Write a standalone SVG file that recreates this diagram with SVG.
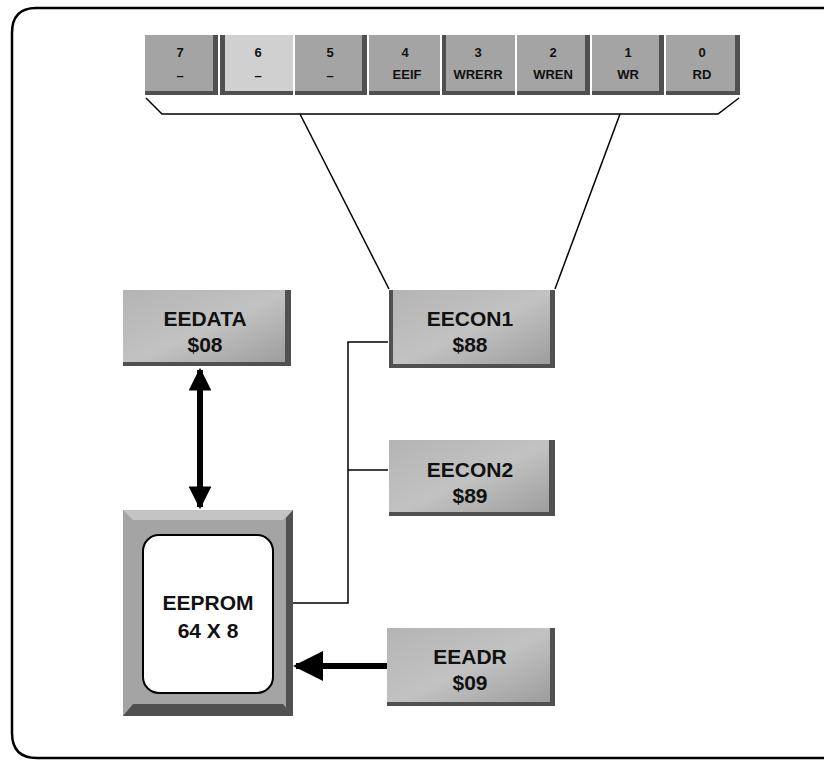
<svg xmlns="http://www.w3.org/2000/svg" width="824" height="762" viewBox="0 0 824 762">
<style>
.frame{fill:none;stroke:#000;stroke-width:2.5}
.box{fill:#a4a4a4}
.lite{fill:#d0d0d0}
.dark{fill:#505050}
.hl{fill:#c4c4c4}
.t{font-family:"Liberation Sans",Arial,sans-serif;font-weight:bold;fill:#111;text-anchor:middle}
.big{font-size:21px}
.small{font-size:13px}
.ln{fill:none;stroke:#000;stroke-width:1.5}
.thick{fill:none;stroke:#000;stroke-width:6}
</style>
<defs>
<marker id="ah" viewBox="0 0 10 10" refX="9" refY="5" markerWidth="3.8" markerHeight="3.8" orient="auto-start-reverse" markerUnits="strokeWidth">
<path d="M0,0 L10,5 L0,10 Z" fill="#000"/>
</marker>
<marker id="ah2" viewBox="0 0 10 10" refX="9" refY="5" markerWidth="5" markerHeight="5" orient="auto" markerUnits="strokeWidth">
<path d="M0,0 L10,5 L0,10 Z" fill="#000"/>
</marker>
<linearGradient id="g" x1="0" y1="0" x2="1" y2="1">
<stop offset="0" stop-color="#b4b4b4"/>
<stop offset="0.5" stop-color="#c2c2c2"/>
<stop offset="1" stop-color="#9a9a9a"/>
</linearGradient>
</defs>
<rect width="824" height="762" fill="#fff"/>
<path class="frame" d="M830,8 L36,8 Q12,8 12,33 L12,733 Q12,758 37,758 L830,758"/>

<g id="register">
<g id="bit7"><rect class="box" x="145" y="35" width="73" height="60"/><rect class="dark" x="213" y="35" width="5" height="60"/><rect class="dark" x="145" y="91" width="73" height="4"/><text class="t small" x="180" y="57">7</text><text class="t small" x="180" y="80">–</text></g>
<g id="bit6"><rect class="lite" x="220" y="35" width="73" height="60"/><rect class="dark" x="220" y="35" width="5" height="60"/><rect class="dark" x="220" y="91" width="73" height="4"/><text class="t small" x="258" y="57">6</text><text class="t small" x="258" y="80">–</text></g>
<g id="bit5"><rect class="box" x="295" y="35" width="72" height="60"/><rect class="dark" x="362" y="35" width="5" height="60"/><rect class="dark" x="295" y="91" width="72" height="4"/><text class="t small" x="330" y="57">5</text><text class="t small" x="330" y="80">–</text></g>
<g id="bit4"><rect class="box" x="369" y="35" width="71" height="60"/><rect class="dark" x="369" y="91" width="71" height="4"/><text class="t small" x="405" y="57">4</text><text class="t small" x="407" y="79">EEIF</text></g>
<g id="bit3"><rect class="box" x="442" y="35" width="73" height="60"/><rect class="dark" x="442" y="35" width="4" height="60"/><rect class="dark" x="442" y="91" width="73" height="4"/><text class="t small" x="478" y="57">3</text><text class="t small" x="478" y="79">WRERR</text></g>
<g id="bit2"><rect class="box" x="517" y="35" width="73" height="60"/><rect class="dark" x="585" y="35" width="5" height="60"/><rect class="dark" x="517" y="91" width="73" height="4"/><text class="t small" x="553" y="57">2</text><text class="t small" x="553" y="79">WREN</text></g>
<g id="bit1"><rect class="box" x="592" y="35" width="72" height="60"/><rect class="dark" x="659" y="35" width="5" height="60"/><rect class="dark" x="592" y="91" width="72" height="4"/><text class="t small" x="628" y="57">1</text><text class="t small" x="628" y="79">WR</text></g>
<g id="bit0"><rect class="box" x="666" y="35" width="74" height="60"/><rect class="dark" x="735" y="35" width="5" height="60"/><rect class="dark" x="666" y="91" width="74" height="4"/><text class="t small" x="702" y="57">0</text><text class="t small" x="702" y="79">RD</text></g>
</g>

<g id="connectors">
<path class="ln" d="M146,98 L162,114 L718,114 L739,98"/>
<path class="ln" d="M300,114 L389,289"/>
<path class="ln" d="M620,114 L555,289"/>
<path class="ln" d="M388,342 L348,342 L348,603 L293,603"/>
<path class="ln" d="M348,470 L388,470"/>
<path class="thick" d="M200,370 L200,507" marker-start="url(#ah)" marker-end="url(#ah)"/>
<path class="thick" d="M387,666 L296,666" marker-end="url(#ah2)"/>
</g>

<g id="eedata">
<rect fill="url(#g)" x="123" y="290" width="168" height="76"/>
<rect class="dark" x="285" y="290" width="6" height="76"/>
<rect class="dark" x="123" y="362" width="168" height="4"/>
<text class="t big" x="205" y="326">EEDATA</text>
<text class="t big" x="205" y="352">$08</text>
</g>

<g id="eecon1">
<rect fill="url(#g)" x="389" y="290" width="166" height="78"/>
<rect class="dark" x="389" y="290" width="4" height="78"/>
<rect class="dark" x="550" y="290" width="5" height="78"/>
<rect class="dark" x="389" y="364" width="166" height="4"/>
<text class="t big" x="470" y="326">EECON1</text>
<text class="t big" x="470" y="352">$88</text>
</g>

<g id="eecon2">
<rect fill="url(#g)" x="389" y="440" width="166" height="76"/>
<rect class="dark" x="549" y="440" width="6" height="76"/>
<rect class="dark" x="389" y="512" width="166" height="4"/>
<text class="t big" x="470" y="477">EECON2</text>
<text class="t big" x="470" y="503">$89</text>
</g>

<g id="eeprom">
<rect class="box" x="123" y="510" width="170" height="206"/>
<polygon class="hl" points="123,510 293,510 283,520 133,520"/>
<polygon class="dark" points="123,716 293,716 283,704 133,704"/>
<polygon class="dark" points="293,510 293,716 286,708 286,518"/>
<rect x="143" y="535" width="130" height="158" rx="16" fill="#fff" stroke="#000" stroke-width="2"/>
<text class="t big" x="208" y="610">EEPROM</text>
<text class="t big" x="208" y="638">64 X 8</text>
</g>

<g id="eeadr">
<rect fill="url(#g)" x="387" y="628" width="168" height="78"/>
<rect class="dark" x="550" y="628" width="5" height="78"/>
<rect class="dark" x="387" y="702" width="168" height="4"/>
<text class="t big" x="470" y="664">EEADR</text>
<text class="t big" x="470" y="690">$09</text>
</g>
</svg>
